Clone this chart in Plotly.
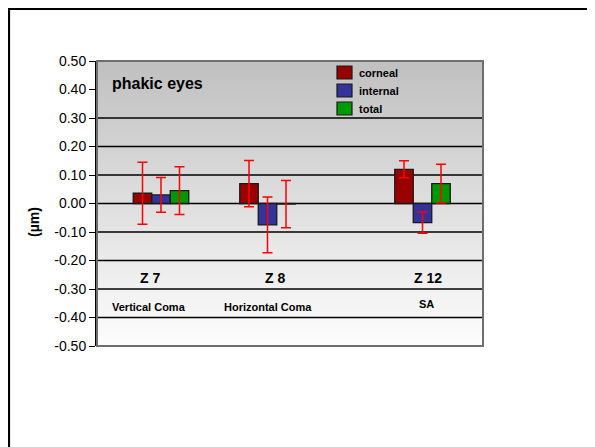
import plotly.graph_objects as go

# ---- data ----
categories = ["Z 7", "Z 8", "Z 12"]
subtitles = ["Vertical Coma", "Horizontal Coma", "SA"]
series_names = ["corneal", "internal", "total"]
corneal = [0.036, 0.070, 0.120]
internal = [0.030, -0.075, -0.067]
total = [0.045, -0.002, 0.070]
corneal_err = [0.109, 0.081, 0.030]
internal_err = [0.061, 0.098, 0.037]
total_err = [0.084, 0.083, 0.068]
y_ticks = [0.5, 0.4, 0.3, 0.2, 0.1, 0.0, -0.1, -0.2, -0.3, -0.4, -0.5]
grid_vals = [0.3, 0.2, 0.1, 0.0, -0.1, -0.2, -0.3, -0.4]

# ---- layout constants (positions / styles) ----
OX, OY = 8, 8                 # page body margin
W, H = 595 - OX, 447 - OY
PL, PR, PT, PB = 97, 483, 61, 346   # plot area in page pixels
L, T = PL - OX, PT - OY
R, B = W - (PR - OX), H - (PB - OY)
PW, PH = PR - PL, PB - PT


def px_x(x):
    return (x - PL) / PW


def px_y(y):
    return (PB - y) / PH


group_pos = [64, 170.5, 325.5]        # x positions of groups (axis units = px)
label_pos = [53, 178, 331]
sub_pos = [52, 171, 329]
bar_w = 18.5
offsets = [-1.5 * bar_w, -0.5 * bar_w, 0.5 * bar_w]
colors = ["#990000", "#333399", "#009900"]
FONT = "Arial, Liberation Sans, sans-serif"

values = [corneal, internal, total]
errs = [corneal_err, internal_err, total_err]

fig = go.Figure()
for name, vals, err, col, off in zip(series_names, values, errs, colors, offsets):
    fig.add_trace(go.Bar(
        x=group_pos, y=vals, name=name, width=bar_w, offset=off,
        marker=dict(color=col, line=dict(color="#1a1a1a", width=1.3)),
        error_y=dict(type="data", array=err, visible=True, color="#ff0000",
                     thickness=1.5, width=5),
        showlegend=False,
    ))

shapes = []
# gradient background
n = 95
c0, c1 = 192, 253
for i in range(n):
    t = i / (n - 1)
    c = int(round(c0 + (c1 - c0) * t))
    shapes.append(dict(type="rect", xref="paper", yref="paper",
                       x0=0, x1=1, y0=1 - (i + 1) / n - 0.002, y1=1 - i / n,
                       fillcolor=f"rgb({c},{c},{c})", line=dict(width=0),
                       layer="below"))
# gridlines
for g in grid_vals:
    shapes.append(dict(type="line", xref="paper", yref="y", x0=0, x1=1,
                       y0=g, y1=g, line=dict(color="#000000", width=1.3),
                       layer="below"))
# plot border
shapes.append(dict(type="rect", xref="paper", yref="paper", x0=0, x1=1,
                   y0=0, y1=1, line=dict(color="#6e6e6e", width=2),
                   layer="above"))
# outer frame (left, top, right)
fx0, fx1 = px_x(9), px_x(593)
fy1, fy0 = px_y(9), px_y(470)
shapes.append(dict(type="path", xref="paper", yref="paper",
                   path=f"M {fx0},{fy0} L {fx0},{fy1} L {fx1},{fy1} L {fx1},{fy0}",
                   line=dict(color="#000000", width=2.2), layer="above"))

# manual legend
leg_y = [66, 84, 102]
annotations = []
for name, col, yy in zip(series_names, colors, leg_y):
    shapes.append(dict(type="rect", xref="paper", yref="paper",
                       x0=px_x(337), x1=px_x(352),
                       y0=px_y(yy + 13), y1=px_y(yy),
                       fillcolor=col, line=dict(color="#1a1a1a", width=1.2),
                       layer="above"))
    annotations.append(dict(xref="paper", yref="paper", x=px_x(357),
                            y=px_y(yy + 6.5), text=f"<b>{name}</b>",
                            showarrow=False, xanchor="left", yanchor="middle",
                            font=dict(family=FONT, size=11, color="#000")))

annotations.append(dict(xref="paper", yref="paper", x=px_x(110),
                        y=px_y(83), text="<b>phakic eyes</b>",
                        showarrow=False, xanchor="left", yanchor="middle",
                        font=dict(family=FONT, size=16, color="#000")))
for cat, lx in zip(categories, label_pos):
    annotations.append(dict(xref="x", yref="y", x=lx, y=-0.261,
                            text=f"<b>{cat}</b>", showarrow=False,
                            xanchor="center", yanchor="middle",
                            font=dict(family=FONT, size=14, color="#000")))
for sub, sx, sy in zip(subtitles, sub_pos, [-0.363, -0.363, -0.353]):
    annotations.append(dict(xref="x", yref="y", x=sx, y=sy,
                            text=f"<b>{sub}</b>", showarrow=False,
                            xanchor="center", yanchor="middle",
                            font=dict(family=FONT, size=11, color="#000")))
annotations.append(dict(xref="paper", yref="paper", x=px_x(34),
                        y=px_y(222), text="<b>(µm)</b>",
                        textangle=-90, showarrow=False,
                        xanchor="center", yanchor="middle",
                        font=dict(family=FONT, size=14, color="#000")))

fig.update_layout(
    width=W, height=H,
    margin=dict(l=L, r=R, t=T, b=B, pad=0),
    paper_bgcolor="#ffffff", plot_bgcolor="rgba(0,0,0,0)",
    shapes=shapes, annotations=annotations,
    showlegend=False,
    xaxis=dict(range=[0, PW], visible=False, fixedrange=True),
    yaxis=dict(range=[-0.5, 0.5], tickvals=y_ticks,
               ticktext=[f"{v:.2f}" for v in y_ticks],
               showgrid=False, zeroline=False, showline=True,
               linecolor="#000", linewidth=2, ticks="outside", ticklen=6,
               tickcolor="#000", tickwidth=1.3,
               tickfont=dict(family=FONT, size=14, color="#000")),
    font=dict(family=FONT),
)

fig.write_html("out.html")
